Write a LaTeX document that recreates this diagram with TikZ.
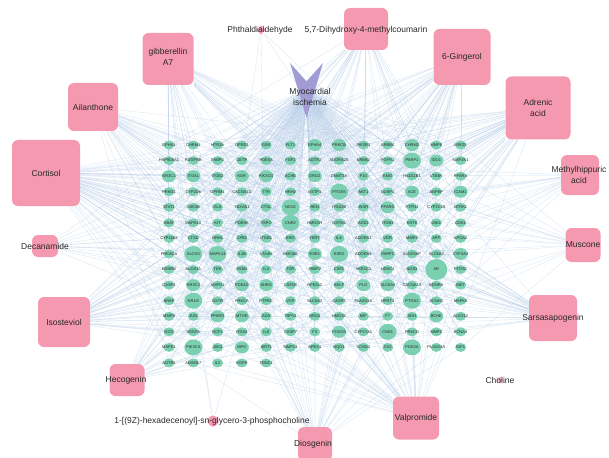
\documentclass[tikz,border=0pt]{standalone}
\usepackage{fontspec}
\setmainfont{Liberation Sans}
\usetikzlibrary{shapes.geometric}
\pgfdeclarelayer{edges}
\pgfsetlayers{edges,main}
\definecolor{tgreen}{RGB}{124,208,178}
\definecolor{cpink}{RGB}{245,153,177}
\definecolor{dpurple}{RGB}{163,156,212}
\definecolor{eblue}{RGB}{178,202,230}
\definecolor{txtc}{RGB}{40,40,40}
\tikzset{
  target/.style={ellipse, fill=tgreen, inner sep=0pt},
  tlabel/.style={text=txtc, inner sep=0pt, font=\fontsize{4}{4.5}\selectfont},
  cbox/.style={rounded corners=6pt, fill=cpink, inner sep=0pt},
  ctext/.style={text=txtc, inner sep=0pt, align=center, font=\fontsize{8.5}{11}\selectfont},
  edge/.style={draw=eblue, line width=0.35pt, opacity=0.5},
}
\newcommand\trow[2]{%
  \foreach \nm/\sz [count=\c] in {#2}{%
    \pgfmathsetmacro\xx{169+24.3*(\c-1)}%
    \pgfmathsetmacro\yy{145+15.57*(#1-1)}%
    \pgfmathtruncatemacro\kk{(#1-1)*13+\c}%
    \pgfmathsetmacro\ww{{11,14,18,22}[\sz]}%
    \pgfmathsetmacro\hh{{9,12,16,21}[\sz]}%
    \node[target, minimum width=\ww pt, minimum height=\hh pt] (t\kk) at (\xx,\yy) {};
    \node[tlabel] (t\kk-l) at (t\kk) {\nm};
  }}
\newcommand\linkall[2]{%
  \foreach \k in {1,...,187}{%
    \pgfmathtruncatemacro\hit{rnd<#2?1:0}%
    \ifnum\hit=1 \draw[edge] (#1) -- (t\k);\fi
  }}
\begin{document}
\begin{tikzpicture}[x=1pt,y=-1pt]
\useasboundingbox (0,0) rectangle (609,457);
\pgfmathsetseed{4711}
% targets
\trow{1}{EPHX1/0,CHRM1/0,HTR2A/0,OPRD1/0,GSR/0,FLT1/0,EPHA4/1,PRKCB/1,PIK3R1/0,ERBB4/0,CHRM2/1,MMP8/0,GRID2/0}
\trow{2}{HSP90AA1/0,PDGFRB/0,FABP4/0,CETP/0,PDE5A/0,FGF2/0,AGTR2/0,ADORA2A/0,ERBB2/0,FGFR1/0,PARP1/2,IDO1/1,MAP2K1/0}
\trow{3}{NR3C1/1,ITGAL/1,ITGB2/0,KDR/1,PIK3CG/1,ACHE/0,DRD2/1,DNMT3A/0,F10/0,KMO/0,HSD11B1/0,LTB4R/0,PPARA/0}
\trow{4}{PRKG1/0,CYP2D6/0,OPRM1/0,CACNA1D/0,TTR/0,HRH2/0,GSTP1/0,PTGES/2,AKT1/0,DUSP1/0,ACE/1,ANPEP/0,ICAM1/1}
\trow{5}{STAT1/0,GSK3B/0,GLS/0,TBXAS1/0,CTSL/0,NOS2/2,REN/0,ITGA2B/0,INSR/0,PPARD/1,PTPN1/0,CYP2C19/0,NTRK1/0}
\trow{6}{ABAT/0,MAPK10/0,KIT/0,PDE9A/0,TSPO/0,CNR2/2,HMGCR/0,GSTM1/0,ACE2/0,ITGB3/0,KRT8/0,JAK1/0,CDK1/0}
\trow{7}{CYP11B2/0,CTSD/0,HRH1/0,CPB2/0,ITGB1/0,ERG/0,TERT/0,IL6/0,ADORA1/0,VDR/0,MMP3/0,APP/0,APOA2/0}
\trow{8}{PRKACA/0,ALOX5/2,MAPK14/2,IL1B/0,LTA4H/0,AKR1B1/0,ESR1/1,ESR2/2,ADORA3/0,PARP2/1,ALOX5AP/0,SLC6A3/0,CYP3A4/1}
\trow{9}{EDNRB/0,ALOX15/0,TEK/0,FASN/0,IL4/0,F2R/0,FABP2/0,CSF1/0,AKR1C3/0,HDAC1/0,NOS3/0,AR/3,PTGS1/0}
\trow{10}{CASP1/0,NR3C2/1,AMPD1/0,PDE4D/1,SHBG/1,CSF1R/0,NFE2L2/0,SELP/0,PLG/1,SLC6A4/1,CACNA1S/0,EDNRA/0,MET/0}
\trow{11}{BRAF/0,NR1I3/2,OXTR/0,PRKCA/0,PTPRC/0,VCP/0,SLC6A2/0,CASP3/0,PLA2G2A/0,HPRT1/0,PTGS2/2,KCNH2/0,MAPK8/0}
\trow{12}{MMP9/0,JUN/0,PPARG/1,MTOR/1,ADA/0,TRPV1/0,NR1I2/0,HMOX1/0,MIF/0,F7/0,XDH/0,BCHE/1,ALOX12/0}
\trow{13}{GCG/0,VEGFA/0,NCF1/0,ITGA2/0,IL8/0,CASP7/0,F3/0,FOXO3/1,CYP17A1/0,CNR1/2,PRKCD/0,MMP2/0,KCNA3/0}
\trow{14}{MAPK1/0,PIK3CA/2,JAK2/0,MPO/1,SIRT1/0,MMP13/0,APEX1/0,NQO1/0,CCND1/0,CA2/0,PDE3A/2,PLA2G4A/0,IGF1/0}
\trow{15}{AGTR1/0,ADAM17/0,IL2/0,EGFR/0,TNNC1/0}
% disease
\coordinate (dis) at (306.5,90);
\fill[dpurple] (290,63) -- (306.5,81.3) -- (323,63) -- (306.5,118) -- cycle;
\node[ctext] (dis-l) at (310,96.5) {Myocardial\\ischemia};
% compounds
\node[cbox, minimum width=8pt, minimum height=8pt] (phth) at (261,30) {};
\node[ctext] (phth-l) at (260,30) {Phthaldialdehyde};
\node[cbox, minimum width=44pt, minimum height=42pt] (coum) at (366,29) {};
\node[ctext] (coum-l) at (366,30) {5,7-Dihydroxy-4-methylcoumarin};
\node[cbox, minimum width=51pt, minimum height=52pt] (gibb) at (168,59) {};
\node[ctext] (gibb-l) at (168,57) {gibberellin\\A7};
\node[cbox, minimum width=57pt, minimum height=56pt] (ging) at (462,57) {};
\node[ctext] (ging-l) at (462,57) {6-Gingerol};
\node[cbox, minimum width=50pt, minimum height=48pt] (ailan) at (93,107) {};
\node[ctext] (ailan-l) at (93,107) {Ailanthone};
\node[cbox, minimum width=65pt, minimum height=63pt] (adren) at (538,108) {};
\node[ctext] (adren-l) at (538,108) {Adrenic\\acid};
\node[cbox, minimum width=68pt, minimum height=66pt] (cort) at (46,173) {};
\node[ctext] (cort-l) at (46,173) {Cortisol};
\node[cbox, minimum width=38pt, minimum height=40pt] (methyl) at (580,175) {};
\node[ctext] (methyl-l) at (579,175) {Methylhippuric\\acid};
\node[cbox, minimum width=26pt, minimum height=22pt] (decan) at (45,246) {};
\node[ctext] (decan-l) at (45,246) {Decanamide};
\node[cbox, minimum width=35pt, minimum height=34pt] (musc) at (583,245) {};
\node[ctext] (musc-l) at (583,245) {Muscone};
\node[cbox, minimum width=52pt, minimum height=50pt] (isost) at (64,322) {};
\node[ctext] (isost-l) at (64,322) {Isosteviol};
\node[cbox, minimum width=48pt, minimum height=46pt] (sarsa) at (553,318) {};
\node[ctext] (sarsa-l) at (553,318) {Sarsasapogenin};
\node[cbox, minimum width=35pt, minimum height=32pt] (hecog) at (127,380) {};
\node[ctext] (hecog-l) at (126,380) {Hecogenin};
\node[cbox, minimum width=6pt, minimum height=6pt] (cholin) at (500,380) {};
\node[ctext] (cholin-l) at (500,380) {Choline};
\node[cbox, minimum width=11pt, minimum height=11pt] (hexad) at (213,421) {};
\node[ctext] (hexad-l) at (212,421) {1-[(9Z)-hexadecenoyl]-sn-glycero-3-phosphocholine};
\node[cbox, minimum width=46pt, minimum height=43pt] (valpr) at (416,418) {};
\node[ctext] (valpr-l) at (416,418) {Valpromide};
\node[cbox, minimum width=34pt, minimum height=34pt] (diosg) at (315,444) {};
\node[ctext] (diosg-l) at (313,444) {Diosgenin};
% edges
\begin{pgfonlayer}{edges}
\foreach \k in {1,...,187}{\draw[edge] (dis) -- (t\k);}
\linkall{cort}{0.35}
\linkall{adren}{0.3}
\linkall{ging}{0.28}
\linkall{coum}{0.22}
\linkall{gibb}{0.2}
\linkall{ailan}{0.2}
\linkall{isost}{0.2}
\linkall{sarsa}{0.18}
\linkall{valpr}{0.2}
\linkall{diosg}{0.14}
\linkall{hecog}{0.12}
\linkall{musc}{0.1}
\linkall{methyl}{0.1}
\linkall{decan}{0.08}
\linkall{phth}{0.03}
\linkall{hexad}{0.03}
\end{pgfonlayer}
\end{tikzpicture}
\end{document}
